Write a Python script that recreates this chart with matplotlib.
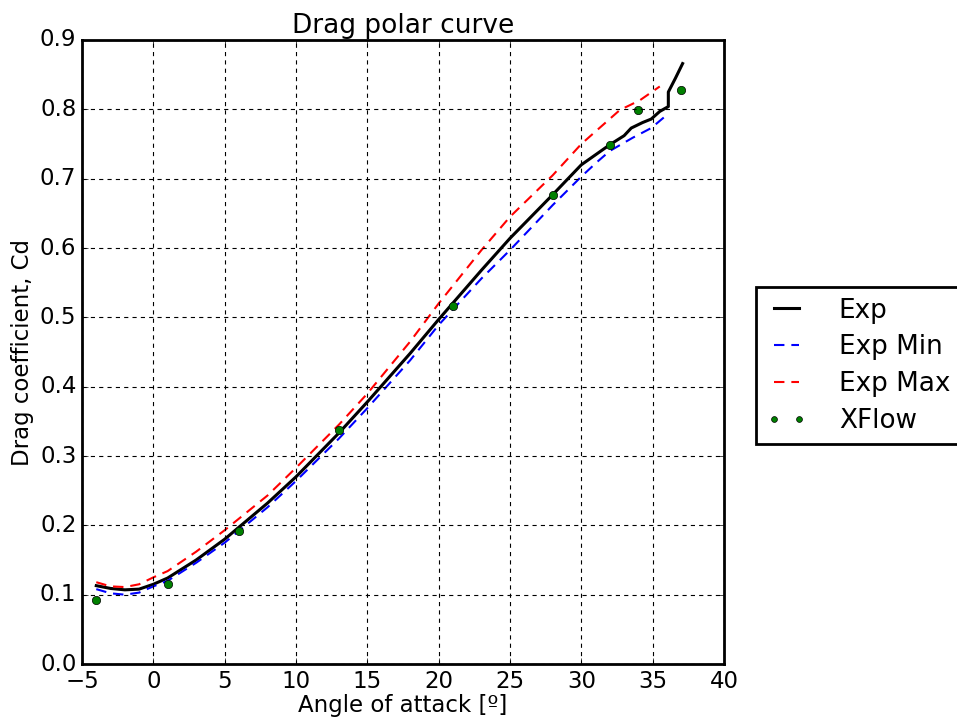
import matplotlib
matplotlib.use("Agg")
import matplotlib.pyplot as plt

plt.style.use('classic')

# Experimental drag coefficient (mean, min, max) vs angle of attack
exp_aoa = [-4, -3, -2, -1, 0, 1, 3, 5, 8, 10, 13, 15, 18, 20, 23, 25, 28, 30, 32,
           33, 33.5, 34.3, 34.9, 35.5, 36.1, 36.1, 36.6, 37.1]
exp_cd = [0.113, 0.109, 0.107, 0.108, 0.115, 0.124, 0.150, 0.180, 0.232, 0.270,
          0.333, 0.378, 0.448, 0.497, 0.568, 0.614, 0.677, 0.720, 0.749,
          0.762, 0.773, 0.781, 0.786, 0.797, 0.804, 0.825, 0.845, 0.866]

min_aoa = [-4, -3, -2, -1, 0, 1, 3, 5, 8, 10, 13, 15, 18, 20, 23, 25, 28, 30, 31.1,
           32, 33.6, 34.9, 36.0]
min_cd = [0.108, 0.102, 0.100, 0.103, 0.112, 0.120, 0.146, 0.175, 0.226, 0.264,
          0.325, 0.369, 0.438, 0.489, 0.556, 0.597, 0.662, 0.703, 0.724,
          0.740, 0.759, 0.773, 0.792]

max_aoa = [-4, -3, -2, -1, 0, 1, 3, 5, 8, 10, 13, 15, 18, 20, 23, 25, 28, 30,
           32.7, 34.1, 35.5]
max_cd = [0.118, 0.112, 0.111, 0.115, 0.125, 0.134, 0.162, 0.193, 0.243, 0.283,
          0.345, 0.390, 0.465, 0.520, 0.597, 0.645, 0.705, 0.750,
          0.799, 0.813, 0.833]

# XFlow simulation results
xflow_aoa = [-4, 1, 6, 13, 21, 28, 32, 34, 37]
xflow_cd = [0.092, 0.115, 0.192, 0.337, 0.517, 0.676, 0.749, 0.799, 0.828]

fig = plt.figure(figsize=(9.57, 7.22), dpi=100, facecolor='white')
ax = fig.add_axes([0.0857, 0.0803, 0.6708, 0.8643])

ax.plot(exp_aoa, exp_cd, 'k-', lw=2.2, label='Exp')
ax.plot(min_aoa, min_cd, 'b--', lw=1.5, dashes=(7.5, 5), label='Exp Min')
ax.plot(max_aoa, max_cd, 'r--', lw=1.5, dashes=(7.5, 5), label='Exp Max')
ax.plot(xflow_aoa, xflow_cd, 'o', color='green', markersize=6, label='XFlow')

ax.set_xlim(-5, 40)
ax.set_ylim(0, 0.9)
ax.grid(True, color='black', linestyle=(0, (3, 3)), linewidth=0.8)
ax.tick_params(labelsize=16.5)
ax.set_title('Drag polar curve', fontsize=19)
ax.set_xlabel('Angle of attack [º]', fontsize=16.5, labelpad=1)
ax.set_ylabel('Drag coefficient, Cd', fontsize=16.5, labelpad=4)
for s in ax.spines.values():
    s.set_linewidth(2)

leg = ax.legend(loc='center left', bbox_to_anchor=(1.05, 0.478), borderaxespad=0,
                prop={'size': 18.9}, numpoints=2, handlelength=1.55,
                handletextpad=1.2, labelspacing=0.41, markerscale=0.7)
leg.get_frame().set_linewidth(2)

fig.savefig('out.png', dpi=100, facecolor='white')
